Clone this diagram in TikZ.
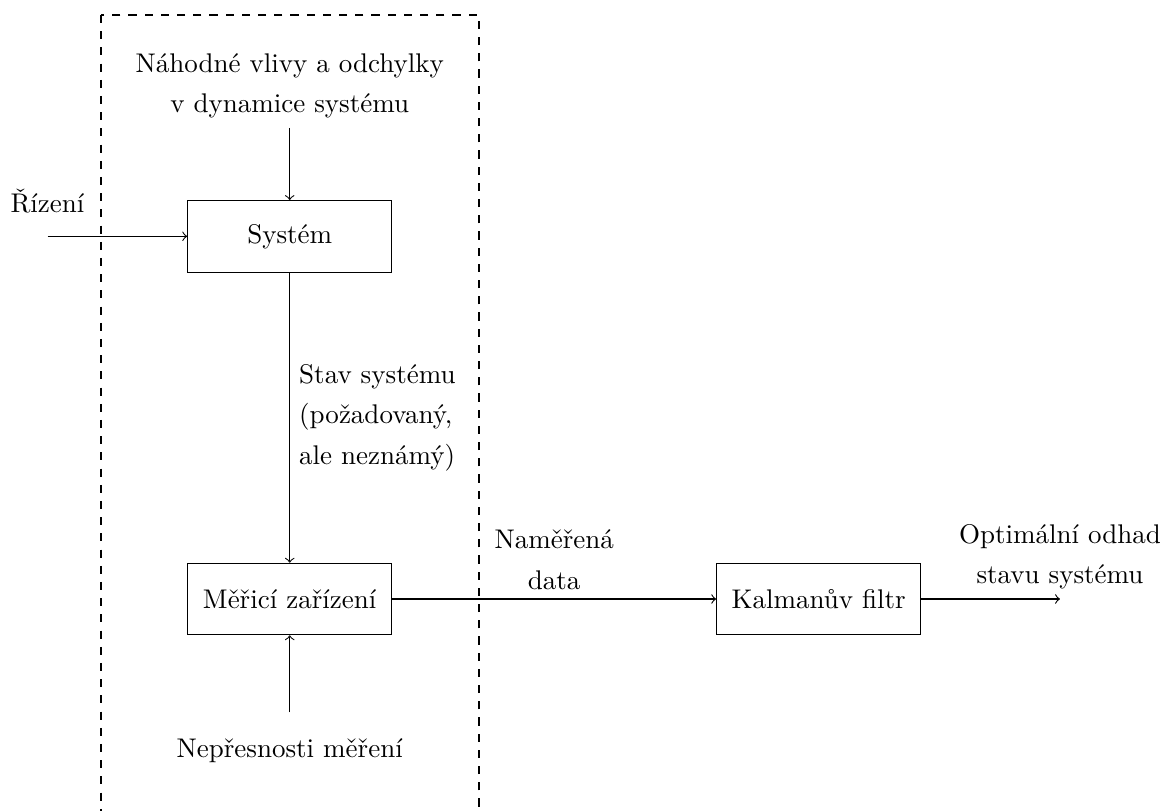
\documentclass[tikz,border=0pt]{standalone}
\usepackage{fontspec}
\begin{document}
\begin{tikzpicture}[
  blok/.style={draw, minimum width=2.655cm, minimum height=0.93cm},
  popis/.style={align=center, font=\linespread{1.25}\selectfont}
]
\useasboundingbox (0,0) rectangle (15.113,-10.544);
% hranice systemu
\draw[dashed] (1.315,-0.195) rectangle (6.235,-10.9);
% bloky
\node[blok] (sys) at (3.771,-3.076) {Systém};
\node[blok] (mer) at (3.771,-7.797) {Měřicí zařízení};
\node[blok] (kal) at (10.657,-7.797) {Kalmanův filtr};
% vstupy
\node[popis,anchor=south] (nah) at (3.771,-1.666) {Náhodné vlivy a odchylky\\v dynamice systému};
\node[anchor=base] (nep) at (3.771,-9.854) {Nepřesnosti měření};
\coordinate (riz) at (0.621,-3.076);
\node[anchor=base] (rizl) at (0.618,-2.760) {Řízení};
\coordinate (vys) at (13.798,-7.797);
% sipky
\draw[->] (riz) -- (sys);
\draw[->] (nah) -- (sys);
\draw[->] (sys) -- node[midway,right,popis,align=left] (stav) {Stav systému\\(požadovaný,\\ale neznámý)} (mer);
\draw[->,shorten <= 6pt] (nep) -- (mer);
\draw[->] (mer) -- node[midway,above,popis] (dat) {Naměřená\\data} (kal);
\draw[->] (kal) -- (vys) node[above,popis] (odh) {Optimální odhad\\stavu systému};
\end{tikzpicture}
\end{document}
